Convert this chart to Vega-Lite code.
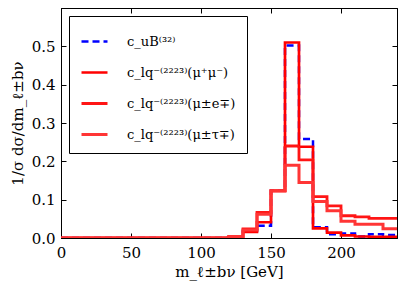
{
  "$schema": "https://vega.github.io/schema/vega-lite/v6.json",
  "width": 336,
  "height": 230,
  "autosize": {"type": "none"},
  "padding": {"left": 61, "top": 8, "right": 10, "bottom": 50},
  "background": "white",
  "data": {
    "values": [
      {"series": "c_uB⁽³²⁾", "m": 0, "v": 0},
      {"series": "c_uB⁽³²⁾", "m": 120, "v": 0.003},
      {"series": "c_uB⁽³²⁾", "m": 130, "v": 0.018},
      {"series": "c_uB⁽³²⁾", "m": 140, "v": 0.032},
      {"series": "c_uB⁽³²⁾", "m": 150, "v": 0.123},
      {"series": "c_uB⁽³²⁾", "m": 160, "v": 0.502},
      {"series": "c_uB⁽³²⁾", "m": 170, "v": 0.258},
      {"series": "c_uB⁽³²⁾", "m": 180, "v": 0.028},
      {"series": "c_uB⁽³²⁾", "m": 190, "v": 0.010},
      {"series": "c_uB⁽³²⁾", "m": 200, "v": 0.012},
      {"series": "c_uB⁽³²⁾", "m": 210, "v": 0.004},
      {"series": "c_uB⁽³²⁾", "m": 220, "v": 0.010},
      {"series": "c_uB⁽³²⁾", "m": 230, "v": 0.008},
      {"series": "c_uB⁽³²⁾", "m": 240, "v": 0.008},
      {"series": "c_lq⁻⁽²²²³⁾(μ⁺μ⁻)", "m": 0, "v": 0},
      {"series": "c_lq⁻⁽²²²³⁾(μ⁺μ⁻)", "m": 120, "v": 0.004},
      {"series": "c_lq⁻⁽²²²³⁾(μ⁺μ⁻)", "m": 130, "v": 0.016},
      {"series": "c_lq⁻⁽²²²³⁾(μ⁺μ⁻)", "m": 140, "v": 0.041},
      {"series": "c_lq⁻⁽²²²³⁾(μ⁺μ⁻)", "m": 150, "v": 0.123},
      {"series": "c_lq⁻⁽²²²³⁾(μ⁺μ⁻)", "m": 160, "v": 0.510},
      {"series": "c_lq⁻⁽²²²³⁾(μ⁺μ⁻)", "m": 170, "v": 0.238},
      {"series": "c_lq⁻⁽²²²³⁾(μ⁺μ⁻)", "m": 180, "v": 0.025},
      {"series": "c_lq⁻⁽²²²³⁾(μ⁺μ⁻)", "m": 190, "v": 0.014},
      {"series": "c_lq⁻⁽²²²³⁾(μ⁺μ⁻)", "m": 200, "v": 0.007},
      {"series": "c_lq⁻⁽²²²³⁾(μ⁺μ⁻)", "m": 210, "v": 0.004},
      {"series": "c_lq⁻⁽²²²³⁾(μ⁺μ⁻)", "m": 220, "v": 0.003},
      {"series": "c_lq⁻⁽²²²³⁾(μ⁺μ⁻)", "m": 230, "v": 0.003},
      {"series": "c_lq⁻⁽²²²³⁾(μ⁺μ⁻)", "m": 240, "v": 0.003},
      {"series": "c_lq⁻⁽²²²³⁾(μ±e∓)", "m": 0, "v": 0},
      {"series": "c_lq⁻⁽²²²³⁾(μ±e∓)", "m": 120, "v": 0.004},
      {"series": "c_lq⁻⁽²²²³⁾(μ±e∓)", "m": 130, "v": 0.024},
      {"series": "c_lq⁻⁽²²²³⁾(μ±e∓)", "m": 140, "v": 0.067},
      {"series": "c_lq⁻⁽²²²³⁾(μ±e∓)", "m": 150, "v": 0.123},
      {"series": "c_lq⁻⁽²²²³⁾(μ±e∓)", "m": 160, "v": 0.240},
      {"series": "c_lq⁻⁽²²²³⁾(μ±e∓)", "m": 170, "v": 0.204},
      {"series": "c_lq⁻⁽²²²³⁾(μ±e∓)", "m": 180, "v": 0.108},
      {"series": "c_lq⁻⁽²²²³⁾(μ±e∓)", "m": 190, "v": 0.084},
      {"series": "c_lq⁻⁽²²²³⁾(μ±e∓)", "m": 200, "v": 0.058},
      {"series": "c_lq⁻⁽²²²³⁾(μ±e∓)", "m": 210, "v": 0.055},
      {"series": "c_lq⁻⁽²²²³⁾(μ±e∓)", "m": 220, "v": 0.051},
      {"series": "c_lq⁻⁽²²²³⁾(μ±e∓)", "m": 230, "v": 0.051},
      {"series": "c_lq⁻⁽²²²³⁾(μ±e∓)", "m": 240, "v": 0.051},
      {"series": "c_lq⁻⁽²²²³⁾(μ±τ∓)", "m": 0, "v": 0},
      {"series": "c_lq⁻⁽²²²³⁾(μ±τ∓)", "m": 120, "v": 0.004},
      {"series": "c_lq⁻⁽²²²³⁾(μ±τ∓)", "m": 130, "v": 0.021},
      {"series": "c_lq⁻⁽²²²³⁾(μ±τ∓)", "m": 140, "v": 0.062},
      {"series": "c_lq⁻⁽²²²³⁾(μ±τ∓)", "m": 150, "v": 0.123},
      {"series": "c_lq⁻⁽²²²³⁾(μ±τ∓)", "m": 160, "v": 0.190},
      {"series": "c_lq⁻⁽²²²³⁾(μ±τ∓)", "m": 170, "v": 0.145},
      {"series": "c_lq⁻⁽²²²³⁾(μ±τ∓)", "m": 180, "v": 0.095},
      {"series": "c_lq⁻⁽²²²³⁾(μ±τ∓)", "m": 190, "v": 0.071},
      {"series": "c_lq⁻⁽²²²³⁾(μ±τ∓)", "m": 200, "v": 0.044},
      {"series": "c_lq⁻⁽²²²³⁾(μ±τ∓)", "m": 210, "v": 0.036},
      {"series": "c_lq⁻⁽²²²³⁾(μ±τ∓)", "m": 220, "v": 0.036},
      {"series": "c_lq⁻⁽²²²³⁾(μ±τ∓)", "m": 230, "v": 0.024},
      {"series": "c_lq⁻⁽²²²³⁾(μ±τ∓)", "m": 240, "v": 0.024}
    ]
  },
  "layer": [
    {
      "mark": {"type": "line", "interpolate": "step-after", "clip": true},
      "encoding": {
        "x": {
          "field": "m", "type": "quantitative",
          "scale": {"domain": [0, 240], "nice": false, "zero": false},
          "axis": {"orient": "bottom", "values": [0, 50, 100, 150, 200], "title": "m_ℓ±bν [GeV]", "labelPadding": 12, "titlePadding": 4}
        },
        "y": {
          "field": "v", "type": "quantitative",
          "scale": {"domain": [0, 0.6], "nice": false},
          "axis": {"orient": "left", "values": [0, 0.1, 0.2, 0.3, 0.4, 0.5], "format": ".1f", "title": "1/σ dσ/dm_ℓ±bν", "labelPadding": 11, "titlePadding": 6}
        },
        "color": {
          "field": "series", "type": "nominal",
          "scale": {
            "domain": ["c_uB⁽³²⁾", "c_lq⁻⁽²²²³⁾(μ⁺μ⁻)", "c_lq⁻⁽²²²³⁾(μ±e∓)", "c_lq⁻⁽²²²³⁾(μ±τ∓)"],
            "range": ["#0000ff", "#ff0000", "#ff1515", "#ff3535"]
          },
          "legend": {"title": null}
        },
        "strokeWidth": {
          "field": "series", "type": "nominal",
          "scale": {
            "domain": ["c_uB⁽³²⁾", "c_lq⁻⁽²²²³⁾(μ⁺μ⁻)", "c_lq⁻⁽²²²³⁾(μ±e∓)", "c_lq⁻⁽²²²³⁾(μ±τ∓)"],
            "range": [2.5, 3, 1.7, 1.1]
          },
          "legend": {"title": null}
        },
        "strokeDash": {
          "field": "series", "type": "nominal",
          "scale": {
            "domain": ["c_uB⁽³²⁾", "c_lq⁻⁽²²²³⁾(μ⁺μ⁻)", "c_lq⁻⁽²²²³⁾(μ±e∓)", "c_lq⁻⁽²²²³⁾(μ±τ∓)"],
            "range": [[7, 4], [1, 0], [1, 0], [1, 0]]
          },
          "legend": {"title": null}
        }
      }
    },
    {
      "mark": {"type": "line", "opacity": 0},
      "encoding": {
        "x": {
          "field": "m", "type": "quantitative",
          "axis": {"orient": "top", "values": [0, 50, 100, 150, 200], "labels": false, "title": null}
        },
        "y": {
          "field": "v", "type": "quantitative",
          "axis": {"orient": "right", "values": [0, 0.1, 0.2, 0.3, 0.4, 0.5], "labels": false, "title": null}
        },
        "detail": {"field": "series"}
      }
    }
  ],
  "resolve": {"axis": {"x": "independent", "y": "independent"}},
  "config": {
    "view": {"stroke": "black", "strokeWidth": 1},
    "axis": {
      "grid": false,
      "domainColor": "black",
      "domainWidth": 1,
      "tickColor": "black",
      "tickSize": -5,
      "tickWidth": 1,
      "labelFont": "DejaVu Serif",
      "labelFontSize": 15,
      "labelColor": "black",
      "titleFont": "DejaVu Serif",
      "titleFontSize": 15,
      "titleFontWeight": "normal",
      "titleColor": "black",
      "labelFlush": false,
      "labelOverlap": false
    },
    "legend": {
      "orient": "top-left",
      "offset": 8,
      "padding": 11,
      "strokeColor": "black",
      "fillColor": "white",
      "symbolType": "stroke",
      "symbolSize": 676,
      "labelFont": "DejaVu Serif",
      "labelFontSize": 13,
      "labelColor": "black",
      "labelOffset": 18,
      "rowPadding": 9,
      "labelLimit": 300
    }
  }
}
